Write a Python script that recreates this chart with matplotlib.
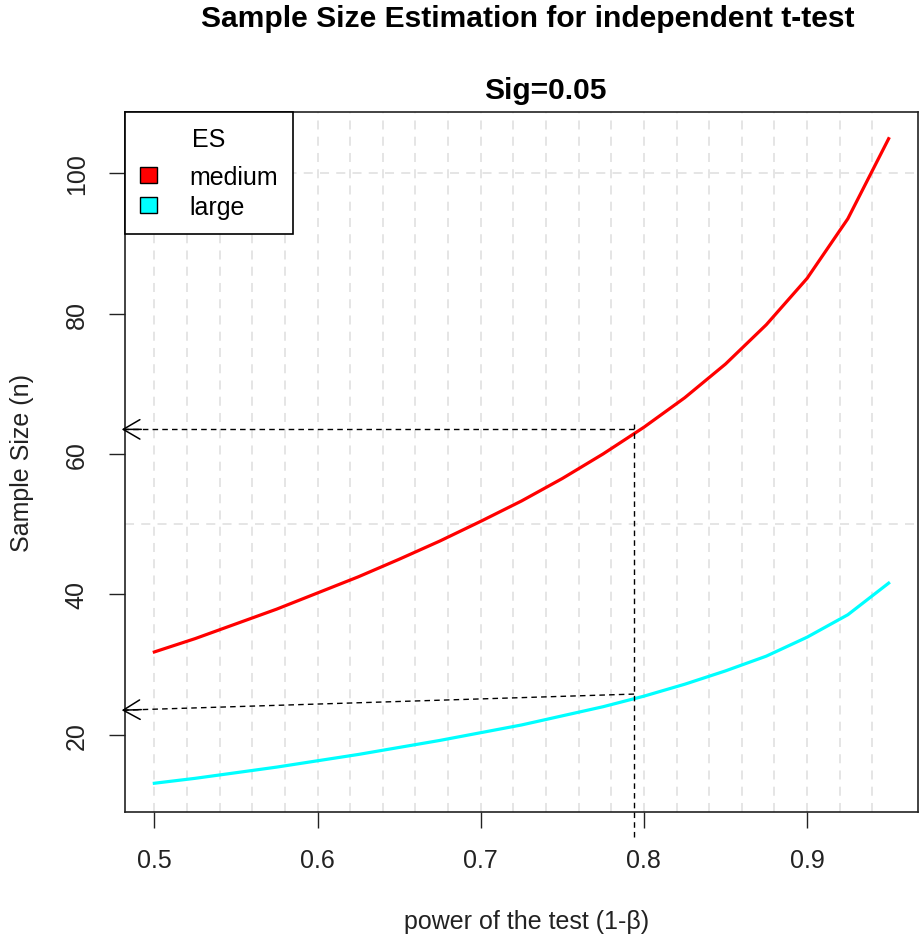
import numpy as np
import matplotlib
matplotlib.use("Agg")
import matplotlib.pyplot as plt
from matplotlib.patches import Patch

plt.rcParams['font.family'] = ['Liberation Sans', 'DejaVu Sans']

# power values and sample sizes
power = [0.500, 0.525, 0.550, 0.575, 0.600, 0.625, 0.650, 0.675, 0.700, 0.725,
         0.750, 0.775, 0.800, 0.825, 0.850, 0.875, 0.900, 0.925, 0.950]
n_medium = [31.8, 33.7, 35.8, 37.9, 40.2, 42.5, 45.0, 47.6, 50.4, 53.3,
            56.5, 60.0, 63.8, 68.0, 72.8, 78.4, 85.0, 93.5, 104.9]
n_large = [13.1, 13.8, 14.6, 15.4, 16.3, 17.2, 18.2, 19.2, 20.3, 21.4,
           22.7, 24.0, 25.5, 27.2, 29.1, 31.2, 33.9, 37.1, 41.6]
labels = ['medium', 'large']
colors = ['#ff0000', '#00ffff']

xticks = [0.5, 0.6, 0.7, 0.8, 0.9]
yticks = [20, 40, 60, 80, 100]
vgrid = [0.50 + 0.02 * i for i in range(23)]
hgrid = [50, 100]

# guide lines: target power and read-off sample sizes
p_target = 0.794
arrow_x_end = 0.48
med_y = (63.5, 63.5)
lrg_y = (25.8, 23.5)
vline_y = (5.5, 64.2)

fig = plt.figure(figsize=(9.23, 9.37), dpi=100)
ax = fig.add_axes([0.1354, 0.1323, 0.8592, 0.7471])

for g in vgrid:
    ax.axvline(g, color='#e3e3e3', lw=1.3, ls=(0, (5, 4)), zorder=0)
for g in hgrid:
    ax.axhline(g, color='#e3e3e3', lw=1.3, ls=(0, (5, 4)), zorder=0)

ax.plot(power, n_medium, color=colors[0], lw=2.3, zorder=3)
ax.plot(power, n_large, color=colors[1], lw=2.3, zorder=3)

# dashed guide lines with open arrow heads at the y axis
ax.plot([p_target, p_target], vline_y, color='black', lw=1.0, ls=(0, (4, 3)),
        clip_on=False, zorder=4)
for ys in (med_y, lrg_y):
    ax.plot([p_target, arrow_x_end], ys, color='black', lw=1.0,
            ls=(0, (4, 3)), clip_on=False, zorder=4)
    back = arrow_x_end + 0.012
    y_back = ys[1] + (ys[0] - ys[1]) * (back - arrow_x_end) / (p_target - arrow_x_end)
    ax.annotate('', xy=(arrow_x_end, ys[1]), xytext=(back, y_back),
                arrowprops=dict(arrowstyle='->,head_length=1.2,head_width=0.7',
                                color='black', lw=1.1, shrinkA=0, shrinkB=0),
                annotation_clip=False, zorder=4)

ax.set_xlim(0.482, 0.968)
ax.set_ylim(9.0, 108.7)
ax.set_xticks(xticks)
ax.set_xticklabels([str(t) for t in xticks])
ax.set_yticks(yticks)
ax.set_yticklabels([str(t) for t in yticks], rotation=90, va='center')
ax.tick_params(axis='both', length=11.5, width=1.0, labelsize=18, pad=14.5,
               colors='#222222')
for s in ax.spines.values():
    s.set_linewidth(1.2)
    s.set_color('#222222')

handles = [Patch(facecolor=c, edgecolor='black', lw=1.0) for c in colors]
leg = ax.legend(handles, labels, title='ES', loc='upper left',
                bbox_to_anchor=(0, 1), borderaxespad=0, fancybox=False,
                edgecolor='black', fontsize=18, title_fontsize=18,
                handlelength=0.68, handleheight=0.6, handletextpad=1.3,
                borderpad=0.6, labelspacing=0.25)
leg.get_frame().set_linewidth(1.2)
leg.get_frame().set_alpha(1)
leg._legend_box.sep = 10

fig.text(0.572, 0.980, 'Sample Size Estimation for independent t-test',
         ha='center', va='center', fontsize=21.6, fontweight='bold')
fig.text(0.591, 0.903, 'Sig=0.05', ha='center', va='center', fontsize=21.6,
         fontweight='bold')
fig.text(0.571, 0.016, 'power of the test (1-β)', ha='center', va='center',
         fontsize=18, color='#222222')
fig.text(0.024, 0.506, 'Sample Size (n)', ha='center', va='center',
         rotation=90, fontsize=18, color='#222222')

fig.savefig('out.png', dpi=100)
